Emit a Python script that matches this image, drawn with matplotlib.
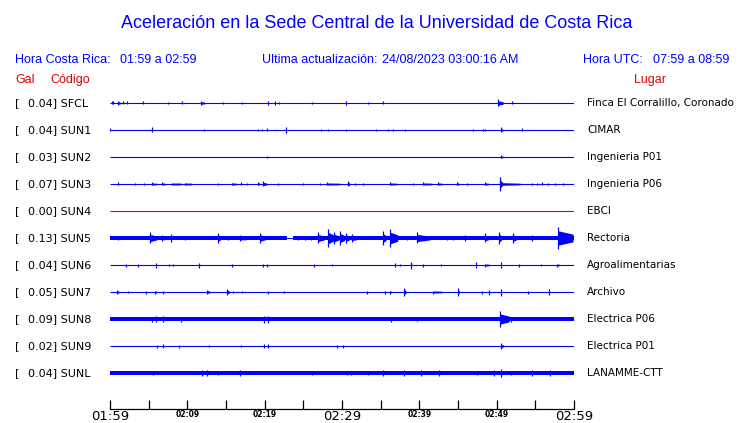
import matplotlib
matplotlib.use("Agg")
import matplotlib.pyplot as plt
import matplotlib.transforms as mtransforms

W, H = 740, 423

# station info
codes = ["SFCL", "SUN1", "SUN2", "SUN3", "SUN4", "SUN5",
         "SUN6", "SUN7", "SUN8", "SUN9", "SUNL"]
gal = [0.04, 0.04, 0.03, 0.07, 0.00, 0.13, 0.04, 0.05, 0.09, 0.02, 0.04]
places = ["Finca El Corralillo, Coronado", "CIMAR", "Ingenieria P01",
          "Ingenieria P06", "EBCI", "Rectoria", "Agroalimentarias",
          "Archivo", "Electrica P06", "Electrica P01", "LANAMME-CTT"]
# background noise half-width of each trace (pixels)
noise = [0, 0, 0, 0, 0, 1.7, 0, 0, 1.8, 0, 1.8]
# quiet stretches of SUN5 (minutes after 01:59)
sun5_quiet = [(22.85, 23.71)]

tick_minutes = list(range(0, 61, 5))
tick_labels = ["01:59", "", "02:09", "", "02:19", "", "02:29",
               "", "02:39", "", "02:49", "", "02:59"]
big_labels = ["01:59", "02:29", "02:59"]

# events per station: (minute after 01:59, half amplitude in px, duration min)
ev_sfcl = [(0.22, 1.5, 0), (0.43, 1.5, 0), (1.03, 2, 0.3), (1.68, 1.5, 0),
           (2.20, 1.5, 0), (4.23, 1.5, 0), (7.50, 1, 0), (9.31, 1.5, 0),
           (11.77, 2, 0.5), (14.61, 1, 0), (17.07, 1, 0), (20.43, 2, 0),
           (21.34, 2, 0), (21.86, 1, 0), (26.12, 1, 0), (30.52, 2, 0),
           (33.36, 1, 0), (35.34, 1.5, 0), (50.13, 3.5, 0.7), (51.94, 1.5, 0)]
ev_sun1 = [(0.04, 1.5, 0), (5.39, 2.5, 0), (12.16, 1, 0), (19.18, 1, 0),
           (19.69, 1, 0), (20.26, 1.5, 0), (22.72, 3, 0), (27.29, 1, 0),
           (28.23, 1, 0), (30.48, 0.8, 0), (34.40, 0.8, 0), (35.99, 1, 0),
           (36.63, 1, 0), (38.15, 0.8, 0), (46.98, 1, 0), (48.27, 1, 0),
           (48.49, 1, 0), (50.52, 2.5, 0.3), (53.24, 1.5, 0)]
ev_sun2 = [(20.34, 1, 0), (50.52, 1.5, 0.3)]
ev_sun3 = [(1.07, 1.5, 0), (3.23, 1, 0), (4.40, 1, 0), (5.39, 1.5, 0.65),
           (6.76, 1.5, 0.35), (8.06, 1, 0.55), (8.70, 1, 0.55), (9.70, 1, 0.85),
           (14.00, 1, 0), (15.74, 1, 0.65), (16.90, 1.5, 0), (17.68, 1, 0),
           (19.10, 1.5, 0.3), (19.82, 2.5, 0.45), (21.76, 1, 0), (24.92, 1, 0),
           (27.16, 1, 0), (28.02, 1.5, 1.7), (30.82, 2.5, 0.2), (31.68, 1, 0),
           (32.76, 1, 0), (36.21, 1.5, 0.85), (39.22, 1, 0), (40.51, 1.5, 1.1),
           (42.45, 1.5, 0.45), (44.83, 1.5, 0.35), (46.13, 1, 0),
           (48.49, 1.5, 0.45), (50.43, 7, 0.2), (50.65, 2, 2.4), (54.53, 1, 0),
           (55.18, 1, 0), (55.83, 1.5, 0), (56.68, 1, 0), (57.55, 1, 0),
           (58.54, 1, 0)]
ev_sun4 = []
ev_sun5 = [(1.07, 2, 0), (5.17, 5.5, 0.9), (6.69, 3, 0.4), (7.89, 4, 0),
           (9.70, 2, 0), (14.00, 5, 0.3), (15.30, 2, 0), (16.81, 3, 0.85),
           (19.40, 5, 0.7), (24.31, 2, 0), (25.22, 2, 0), (25.99, 2, 0),
           (26.90, 5.5, 0.8), (28.19, 9, 0.7), (28.97, 6, 0.6), (29.74, 7, 0.6),
           (30.52, 5, 0.5), (31.29, 4, 0.6), (35.26, 7, 0.45), (36.21, 9, 1.0),
           (38.37, 2, 0), (39.66, 5.5, 1.7), (43.54, 2, 0), (44.36, 2, 0.5),
           (45.91, 3, 0), (48.49, 4.5, 0.45), (50.34, 6, 0.3), (52.15, 5, 0.45),
           (54.53, 3, 0), (57.97, 11, 1.9)]
ev_sun6 = [(2.07, 1.5, 0), (3.58, 1.5, 0), (5.91, 2.5, 0), (7.63, 1, 0),
           (8.11, 1, 0), (11.51, 2.5, 0), (15.74, 1.5, 0), (19.82, 1.5, 0),
           (20.34, 1.5, 0), (26.38, 1.5, 0), (28.67, 1, 0), (36.85, 2, 0),
           (37.50, 1, 0), (38.88, 3.5, 0), (40.44, 1.5, 0), (42.80, 1, 0),
           (47.33, 3, 0), (48.49, 1.5, 0.55), (50.56, 3, 0), (52.89, 1.5, 0),
           (55.74, 1, 0), (57.84, 1.5, 0.25)]
ev_sun7 = [(0.87, 2, 0.3), (2.29, 1, 0), (4.62, 1.5, 0), (5.82, 1.5, 0.2),
           (6.89, 1.5, 0), (12.58, 2, 0.35), (15.09, 3, 0.35), (15.94, 1, 0),
           (17.11, 1, 0), (20.39, 1.5, 0), (22.54, 1, 0), (33.19, 1.5, 0),
           (35.56, 1.5, 0), (36.21, 1.5, 0.2), (38.06, 4, 0.2), (41.81, 1.5, 1.1),
           (44.96, 4, 0.2), (48.07, 1.5, 0), (49.05, 2.5, 0), (50.56, 3.5, 0),
           (54.09, 1.5, 0), (56.77, 3, 0)]
ev_sun8 = [(5.39, 2.5, 0), (5.91, 3, 0), (6.81, 3, 0), (9.18, 2.5, 0),
           (19.95, 3.5, 0), (20.47, 3.5, 0), (36.30, 2.5, 0), (39.74, 2, 0),
           (50.43, 8, 1.2), (51.82, 2.5, 0)]
ev_sun9 = [(6.04, 1.5, 0), (6.81, 2, 0), (8.92, 1.5, 0), (12.84, 1, 0),
           (16.90, 1, 0), (19.91, 2, 0), (20.39, 2, 0), (29.39, 1.5, 0),
           (30.09, 1.5, 0), (50.52, 2.5, 0.4)]
ev_sunl = [(5.60, 2, 0), (11.86, 2.5, 0), (12.58, 2.5, 0), (14.00, 2, 0),
           (16.81, 3, 0), (26.16, 2, 0), (30.61, 2, 0), (31.13, 2, 0),
           (33.32, 2, 0), (35.34, 2.5, 0), (38.06, 2.5, 0), (40.18, 2.5, 0),
           (42.54, 2.5, 0), (47.42, 2, 0), (49.66, 2.5, 0), (50.52, 4, 0),
           (51.82, 2, 0), (54.53, 2.5, 0), (56.90, 2.5, 0)]

events = [ev_sfcl, ev_sun1, ev_sun2, ev_sun3, ev_sun4, ev_sun5,
          ev_sun6, ev_sun7, ev_sun8, ev_sun9, ev_sunl]

BLUE = "#0000ff"
RED = "#e00000"
ROW_PX = 27.0
FIRST_ROW_Y = 103
AX_TOP, AX_BOTTOM = 90, 409
X0, X1 = 110, 574


def fx(x):
    return x / W


def fy(y):
    return 1 - y / H


def draw_trace(ax, row, evs, n, color, quiet=()):
    lw_px = 72.0 / 100
    ax.hlines(row, 0, 60, color=color, lw=lw_px * 1.1)
    if n > 0:
        # split noisy band around quiet stretches
        start = 0
        for q0, q1 in list(quiet) + [(60, 60)]:
            ax.fill_between([start, q0], row - n / ROW_PX, row + n / ROW_PX,
                            color=color, lw=0)
            start = q1
    for t, a, d in evs:
        ax.vlines(t, row - a / ROW_PX, row + a / ROW_PX, color=color, lw=lw_px * 1.2)
        if d > 0:
            # burst: envelope shrinking from the first peak to the tail
            h0 = max(a * 0.65, n, 1.0) / ROW_PX
            h1 = max(a * 0.35, n, 0.8) / ROW_PX
            ax.fill_between([t, t + d], [row - h0, row - h1], [row + h0, row + h1],
                            color=color, lw=0)


def main():
    fig = plt.figure(figsize=(W / 100, H / 100), dpi=100)
    ax = fig.add_axes([fx(X0), fy(AX_BOTTOM), (X1 - X0) / W, (AX_BOTTOM - AX_TOP) / H])
    ymin = (AX_TOP - FIRST_ROW_Y) / ROW_PX
    ymax = (AX_BOTTOM - FIRST_ROW_Y) / ROW_PX
    ax.set_xlim(0, 60)
    ax.set_ylim(ymax, ymin)

    for i, code in enumerate(codes):
        color = RED if gal[i] == 0 else BLUE
        quiet = sun5_quiet if code == "SUN5" else ()
        draw_trace(ax, i, events[i], noise[i], color, quiet)

    # axis styling
    for side in ["top", "left", "right"]:
        ax.spines[side].set_visible(False)
    ax.spines["bottom"].set_linewidth(0.9)
    ax.set_yticks([])
    ax.set_xticks(tick_minutes)
    ax.set_xticklabels(tick_labels)
    ax.tick_params(axis="x", direction="in", length=6.7, width=0.9, pad=1)
    for lbl in ax.get_xticklabels():
        if lbl.get_text() in big_labels:
            lbl.set_fontsize(9.5)
        else:
            lbl.set_fontsize(5.5)
            lbl.set_fontweight("bold")

    # station labels
    tr = mtransforms.blended_transform_factory(fig.transFigure, ax.transData)
    for i, code in enumerate(codes):
        fig.text(fx(15), i, "[", transform=tr, fontsize=8, va="center")
        fig.text(fx(27.5), i, f"{gal[i]:.2f}] {code}", transform=tr,
                 fontsize=8, va="center")
        fig.text(fx(587), i, places[i], transform=tr, fontsize=7.5, va="center")

    # header
    sans = "Liberation Sans"
    fig.text(fx(377), fy(23), "Aceleración en la Sede Central de la Universidad de Costa Rica",
             ha="center", va="center", color=BLUE, fontsize=13, family=sans)
    hdr = dict(va="center", color=BLUE, fontsize=9, family=sans)
    fig.text(fx(15), fy(60), "Hora Costa Rica:", **hdr)
    fig.text(fx(120), fy(60), "01:59 a 02:59", **hdr)
    fig.text(fx(262), fy(60), "Ultima actualización:", **hdr)
    fig.text(fx(382), fy(60), "24/08/2023 03:00:16 AM", **hdr)
    fig.text(fx(583), fy(60), "Hora UTC:", **hdr)
    fig.text(fx(653), fy(60), "07:59 a 08:59", **hdr)
    red = dict(va="center", color=RED, fontsize=9, family=sans)
    fig.text(fx(15), fy(80), "Gal", **red)
    fig.text(fx(50), fy(80), "Código", **red)
    fig.text(fx(634), fy(80), "Lugar", **red)

    fig.savefig("out.png", dpi=100)


if __name__ == "__main__":
    main()
